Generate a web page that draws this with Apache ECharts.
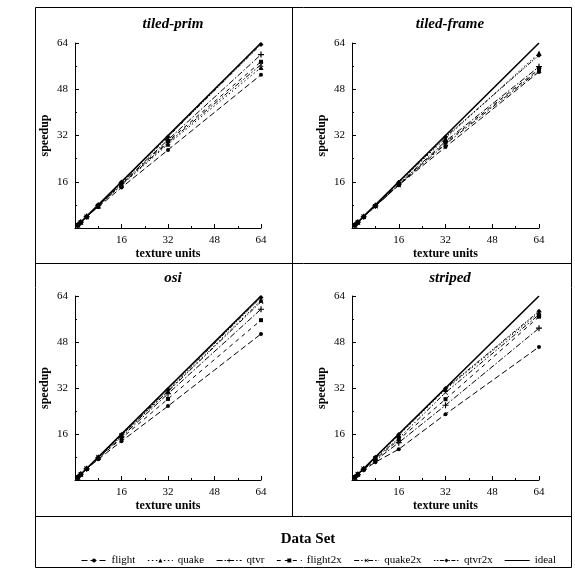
<!DOCTYPE html>
<html><head><meta charset="utf-8">
<script src="https://cdn.jsdelivr.net/npm/echarts@6/dist/echarts.min.js"></script>
<style>html,body{margin:0;padding:0;background:#fff}#c{width:575px;height:570px}</style>
</head><body><div id="c"></div>
<script>
var units = [1, 2, 4, 8, 16, 32, 64];
var tickLabels = ['16', '32', '48', '64'];
var seriesNames = ['flight', 'quake', 'qtvr', 'flight2x', 'quake2x', 'qtvr2x', 'ideal'];
var panelTitles = ['tiled-prim', 'tiled-frame', 'osi', 'striped'];

// tiled-prim
var tpFlight   = [1, 2, 3.9, 7.3, 14.0, 27.0, 53.0];
var tpQuake    = [1, 2, 3.9, 7.5, 14.8, 29.0, 55.5];
var tpQtvr     = [1, 2, 3.95, 7.8, 15.5, 30.5, 60.0];
var tpFlight2x = [1, 2, 3.9, 7.7, 15.2, 30.0, 57.5];
var tpQuake2x  = [1, 2, 3.9, 7.6, 15.0, 29.5, 56.5];
var tpQtvr2x   = [1, 2, 4, 7.95, 15.9, 31.5, 63.5];
// tiled-frame
var tfFlight   = [1, 2, 3.9, 7.5, 14.8, 28.0, 54.0];
var tfQuake    = [1, 2, 4, 7.9, 15.7, 31.0, 60.5];
var tfQtvr     = [1, 2, 3.9, 7.7, 15.2, 30.0, 55.8];
var tfFlight2x = [1, 2, 3.9, 7.6, 15.0, 29.5, 55.0];
var tfQuake2x  = [1, 2, 3.9, 7.5, 14.9, 29.0, 54.5];
var tfQtvr2x   = [1, 2, 4, 7.9, 15.8, 31.5, 59.8];
// osi
var osFlight   = [1, 2, 3.8, 7.2, 13.5, 25.7, 50.8];
var osQuake    = [1, 2, 4, 7.9, 15.6, 31.0, 62.5];
var osQtvr     = [1, 2, 3.9, 7.7, 15.0, 30.0, 59.4];
var osFlight2x = [1, 2, 3.9, 7.5, 14.5, 28.2, 55.6];
var osQuake2x  = [1, 2, 4, 7.9, 15.5, 30.8, 62.0];
var osQtvr2x   = [1, 2, 4, 7.95, 15.8, 31.5, 63.5];
// striped
var stFlight   = [1, 1.9, 3.5, 6.2, 10.7, 22.9, 46.3];
var stQuake    = [1, 2, 3.9, 7.8, 15.5, 31.5, 58.2];
var stQtvr     = [1, 1.9, 3.7, 6.8, 13.0, 26.0, 52.8];
var stFlight2x = [1, 2, 3.8, 7.2, 14.0, 28.1, 56.8];
var stQuake2x  = [1, 2, 3.9, 7.5, 14.5, 30.4, 57.5];
var stQtvr2x   = [1, 2, 4, 7.9, 15.8, 31.8, 58.7];
// ideal
var ideal      = [1, 2, 4, 8, 16, 32, 64];

var panelData = [
  [tpFlight, tpQuake, tpQtvr, tpFlight2x, tpQuake2x, tpQtvr2x, ideal],
  [tfFlight, tfQuake, tfQtvr, tfFlight2x, tfQuake2x, tfQtvr2x, ideal],
  [osFlight, osQuake, osQtvr, osFlight2x, osQuake2x, osQtvr2x, ideal],
  [stFlight, stQuake, stQtvr, stFlight2x, stQuake2x, stQtvr2x, ideal]
];

var plusPath = 'path://M4,0L6,0L6,4L10,4L10,6L6,6L6,10L4,10L4,6L0,6L0,4L4,4Z';
var xPath = 'path://M1,0L5,4L9,0L10,1L6,5L10,9L9,10L5,6L1,10L0,9L4,5L0,1Z';
var styles = [
  {type: [6, 3], symbol: 'circle', size: 4, width: 1},
  {type: [1.5, 2.5], symbol: 'triangle', size: 5, width: 1},
  {type: [6, 2, 1.5, 2], symbol: plusPath, size: 6, width: 1},
  {type: [4, 4], symbol: 'rect', size: 4, width: 1},
  {type: [5, 2, 1.5, 2, 1.5, 2], symbol: xPath, size: 5, width: 1},
  {type: [1.5, 1.5, 1.5, 1.5, 4, 1.5], symbol: 'diamond', size: 5, width: 1},
  {type: 'solid', symbol: 'none', size: 0, width: 1.6}
];

var grids = [
  {left: 75, top: 43, width: 186, height: 185},
  {left: 352, top: 43, width: 187, height: 185},
  {left: 75, top: 296, width: 186, height: 184},
  {left: 352, top: 296, width: 187, height: 184}
];
var titlePos = [[168, 12], [445, 12], [168, 266], [445, 266]];

var serif = 'Liberation Serif';
function axisCommon(isY, gi) {
  return {
    type: 'value', gridIndex: gi, min: 0, max: 64, interval: 16,
    name: isY ? 'speedup' : 'texture units',
    nameLocation: 'middle', nameGap: isY ? 24 : 20,
    nameTextStyle: {fontFamily: serif, fontWeight: 'bold', fontSize: 12, color: '#000'},
    axisLine: {show: true, lineStyle: {color: '#000', width: 1}},
    axisTick: {show: true, inside: true, length: 4, lineStyle: {color: '#000'}},
    minorTick: {show: true, splitNumber: 2, length: 2, lineStyle: {color: '#000'}},
    splitLine: {show: false},
    axisLabel: {
      fontFamily: serif, fontSize: 11, color: '#000', margin: 7,
      formatter: function (v) { return tickLabels.indexOf(String(v)) >= 0 ? String(v) : ''; }
    }
  };
}

var xAxes = [], yAxes = [], series = [], titles = [];
for (var g = 0; g < 4; g++) {
  xAxes.push(axisCommon(false, g));
  yAxes.push(axisCommon(true, g));
  titles.push({
    text: panelTitles[g], left: titlePos[g][0], top: titlePos[g][1], textAlign: 'center',
    textStyle: {fontFamily: serif, fontStyle: 'italic', fontWeight: 'bold', fontSize: 15, color: '#000'}
  });
  for (var s = 0; s < seriesNames.length; s++) {
    var st = styles[s];
    series.push({
      name: seriesNames[s], type: 'line', xAxisIndex: g, yAxisIndex: g,
      data: units.map(function (u, i) { return [u, panelData[g][s][i]]; }),
      symbol: st.symbol, symbolSize: st.size, showSymbol: st.symbol !== 'none',
      itemStyle: {color: '#000'},
      lineStyle: {color: '#000', width: st.width, type: st.type},
      animation: false, z: s === 6 ? 3 : 2
    });
  }
}
titles.push({
  text: 'Data Set', left: 303, top: 527, textAlign: 'center',
  textStyle: {fontFamily: serif, fontWeight: 'bold', fontSize: 15, color: '#000'}
});

var legendData = seriesNames.map(function (n) {
  if (n === 'ideal') return {name: n, icon: 'path://M0,0L30,0L30,1.2L0,1.2Z'};
  return {name: n};
});

var chart = echarts.init(document.getElementById('c'), null, {renderer: 'canvas'});
chart.setOption({
  backgroundColor: '#fff',
  animation: false,
  title: titles,
  grid: grids,
  xAxis: xAxes,
  yAxis: yAxes,
  legend: {
    data: legendData, left: 76, top: 550, itemWidth: 25, itemHeight: 5, itemGap: 12,
    lineStyle: {width: 1},
    textStyle: {fontFamily: serif, fontSize: 11, color: '#000'},
    selectedMode: false
  },
  graphic: [
    {type: 'rect', shape: {x: 35.5, y: 7.5, width: 536, height: 560}, style: {fill: 'none', stroke: '#000', lineWidth: 1}, silent: true},
    {type: 'line', shape: {x1: 292.5, y1: 7.5, x2: 292.5, y2: 516.5}, style: {stroke: '#000', lineWidth: 1}, silent: true},
    {type: 'line', shape: {x1: 35.5, y1: 263.5, x2: 571.5, y2: 263.5}, style: {stroke: '#000', lineWidth: 1}, silent: true},
    {type: 'line', shape: {x1: 35.5, y1: 516.5, x2: 571.5, y2: 516.5}, style: {stroke: '#000', lineWidth: 1}, silent: true}
  ],
  series: series
});
</script></body></html>
